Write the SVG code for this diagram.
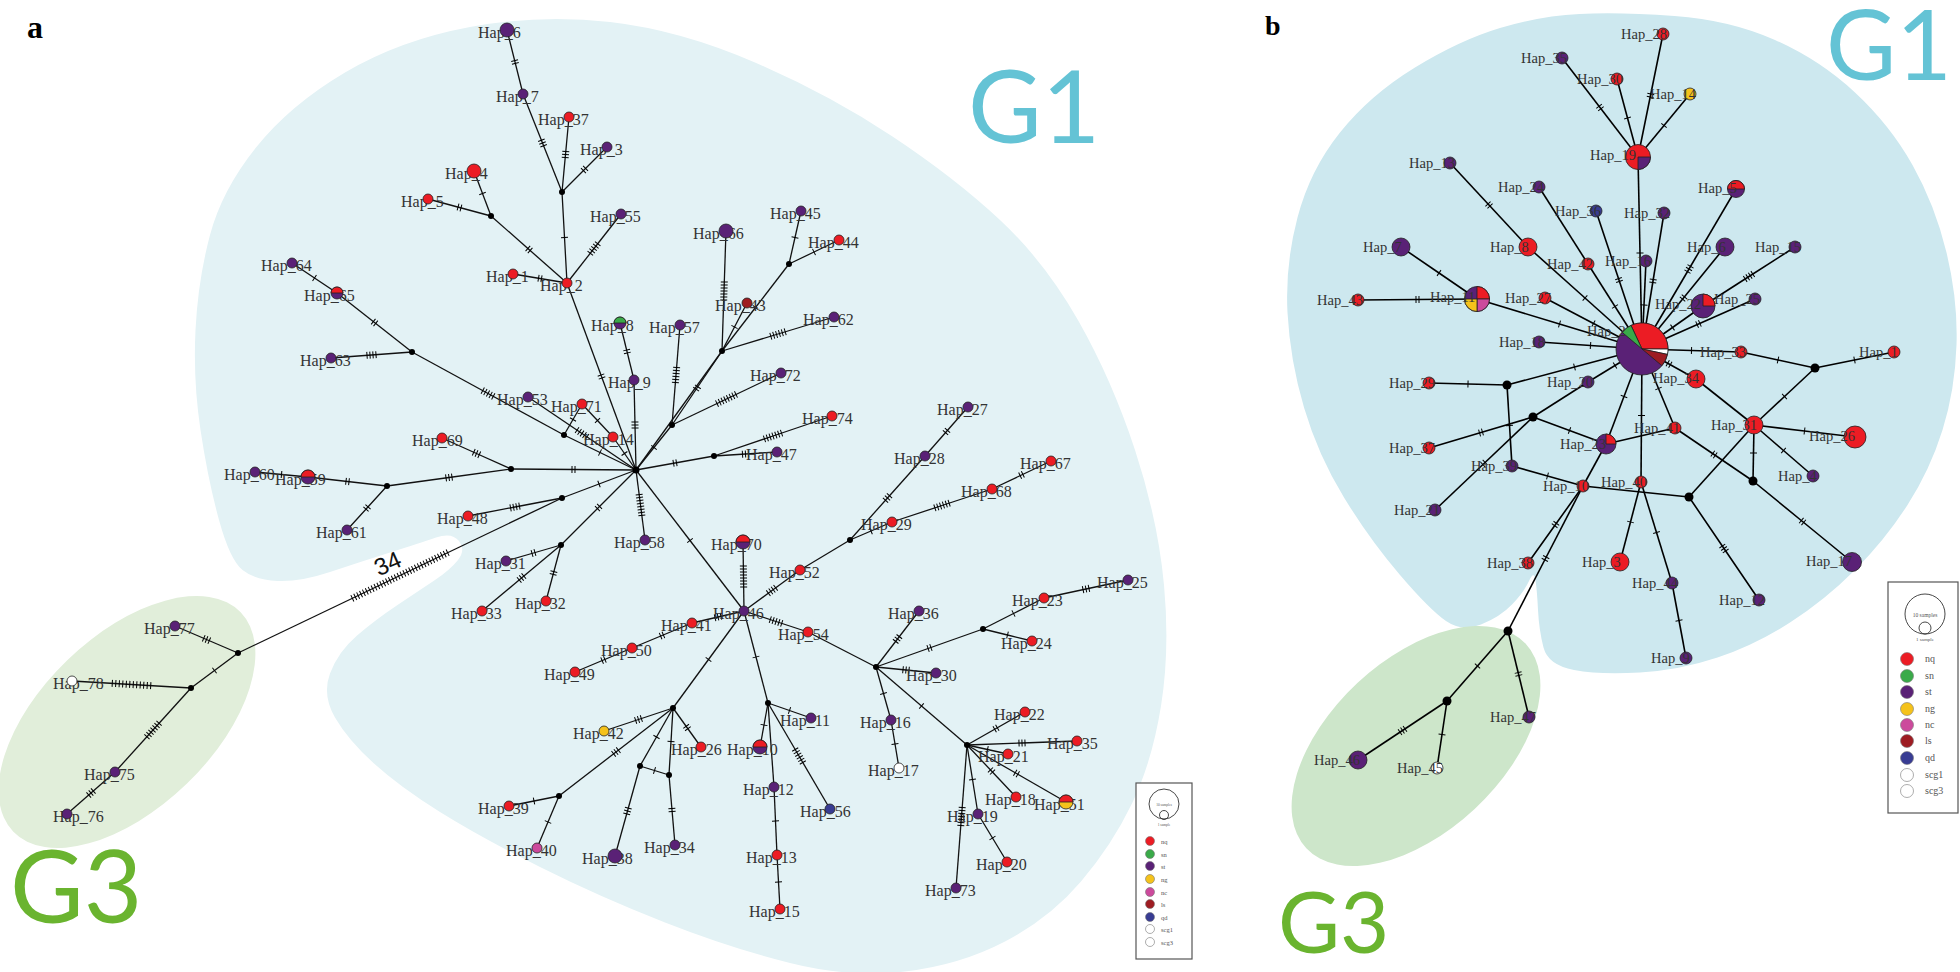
<svg xmlns="http://www.w3.org/2000/svg" width="1960" height="972" viewBox="0 0 1960 972">
<style>
.ea{fill:none;stroke:#111;stroke-width:1.3}
.eb{fill:none;stroke:#000;stroke-width:1.6}
.tk{fill:none;stroke:#000;stroke-width:1}
.n{stroke:#222;stroke-width:.8}
.nq{fill:#ec1c24}.sn{fill:#3aaa49}.st{fill:#5a2176}.ng{fill:#f5c21b}.nc{fill:#cc4a9c}.ls{fill:#9e1c22}.qd{fill:#383c93}.w{fill:#fff}
.j{fill:#000}
.la{font-family:"Liberation Serif",serif;font-size:16px;fill:#333}
.lb{font-family:"Liberation Serif",serif;font-size:14.5px;fill:#333}
.big{font-family:Lato,"Liberation Sans",sans-serif}
.lg{font-family:"Liberation Serif",serif;fill:#555}
.lc{stroke:#777;stroke-width:.6}
</style>
<defs>
<marker id="t1" markerUnits="userSpaceOnUse" orient="auto" markerWidth="120" markerHeight="20" refX="60" refY="10"><path class="tk" d="M60,6.5v7"/></marker>
<marker id="t2" markerUnits="userSpaceOnUse" orient="auto" markerWidth="120" markerHeight="20" refX="60" refY="10"><path class="tk" d="M58.5,6.5v7M61.5,6.5v7"/></marker>
<marker id="t3" markerUnits="userSpaceOnUse" orient="auto" markerWidth="120" markerHeight="20" refX="60" refY="10"><path class="tk" d="M57,6.5v7M60,6.5v7M63,6.5v7"/></marker>
<marker id="t4" markerUnits="userSpaceOnUse" orient="auto" markerWidth="120" markerHeight="20" refX="60" refY="10"><path class="tk" d="M55.5,6.5v7M58.5,6.5v7M61.5,6.5v7M64.5,6.5v7"/></marker>
<marker id="t5" markerUnits="userSpaceOnUse" orient="auto" markerWidth="120" markerHeight="20" refX="60" refY="10"><path class="tk" d="M54,6.5v7M57,6.5v7M60,6.5v7M63,6.5v7M66,6.5v7"/></marker>
<marker id="t6" markerUnits="userSpaceOnUse" orient="auto" markerWidth="120" markerHeight="20" refX="60" refY="10"><path class="tk" d="M52.5,6.5v7M55.5,6.5v7M58.5,6.5v7M61.5,6.5v7M64.5,6.5v7M67.5,6.5v7"/></marker>
<marker id="t7" markerUnits="userSpaceOnUse" orient="auto" markerWidth="120" markerHeight="20" refX="60" refY="10"><path class="tk" d="M51,6.5v7M54,6.5v7M57,6.5v7M60,6.5v7M63,6.5v7M66,6.5v7M69,6.5v7"/></marker>
<marker id="t8" markerUnits="userSpaceOnUse" orient="auto" markerWidth="120" markerHeight="20" refX="60" refY="10"><path class="tk" d="M49.5,6.5v7M52.5,6.5v7M55.5,6.5v7M58.5,6.5v7M61.5,6.5v7M64.5,6.5v7M67.5,6.5v7M70.5,6.5v7"/></marker>
<marker id="t12" markerUnits="userSpaceOnUse" orient="auto" markerWidth="120" markerHeight="20" refX="60" refY="10"><path class="tk" d="M40.75,6.5v7M44.25,6.5v7M47.75,6.5v7M51.25,6.5v7M54.75,6.5v7M58.25,6.5v7M61.75,6.5v7M65.25,6.5v7M68.75,6.5v7M72.25,6.5v7M75.75,6.5v7M79.25,6.5v7"/></marker>
<marker id="t34" markerUnits="userSpaceOnUse" orient="auto" markerWidth="120" markerHeight="20" refX="60" refY="10"><path class="tk" d="M7.2,6.5v7M10.4,6.5v7M13.6,6.5v7M16.8,6.5v7M20,6.5v7M23.2,6.5v7M26.4,6.5v7M29.6,6.5v7M32.8,6.5v7M36,6.5v7M39.2,6.5v7M42.4,6.5v7M45.6,6.5v7M48.8,6.5v7M52,6.5v7M55.2,6.5v7M58.4,6.5v7M61.6,6.5v7M64.8,6.5v7M68,6.5v7M71.2,6.5v7M74.4,6.5v7M77.6,6.5v7M80.8,6.5v7M84,6.5v7M87.2,6.5v7M90.4,6.5v7M93.6,6.5v7M96.8,6.5v7M100,6.5v7M103.2,6.5v7M106.4,6.5v7M109.6,6.5v7M112.8,6.5v7"/></marker>
</defs>
<rect width="1960" height="972" fill="#fff"/>

<g id="panel-a-regions">
<path id="a-G1-region" fill="#e3f2f5" d="M470,27 Q540,14 610,22 Q680,30 755,62.5 Q830,95 892.5,136.5 Q955,178 1000,220 Q1045,262 1078.5,321 Q1112,380 1135,450 Q1158,520 1164,585 Q1170,650 1161,706 Q1152,762 1132,803.5 Q1112,845 1081,881.5 Q1050,918 1005,941.5 Q960,965 905,971.5 Q850,978 790,963 Q730,948 665,922.5 Q600,897 540,867 Q480,837 440,812 Q400,787 374,763.5 Q348,740 335,717.5 Q322,695 330,673.5 Q338,652 356.5,636 Q375,620 397.5,605 Q420,590 435,580 Q450,570 458,560 Q466,550 459,541 Q452,532 436,537.5 Q420,543 390,552.5 Q360,562 330,572 Q300,582 277.5,581 Q255,580 242.5,570 Q230,560 219,520 Q208,480 200.5,430 Q193,380 195.5,330 Q198,280 210,235 Q222,190 256,147.5 Q290,105 345,72.5 Q400,40 470,27 Z"/>
<ellipse id="a-G3-region" fill="#e1eeda" cx="127" cy="722" rx="158" ry="86" transform="rotate(-44 127 722)"/>
<text class="big" x="968" y="143" font-size="101" fill="#64c3d5">G1</text>
<text class="big" x="10" y="923" font-size="101" fill="#6ab42f">G3</text>
<text x="27" y="38" font-family="Liberation Serif,serif" font-weight="bold" font-size="32" fill="#000">a</text>
</g>

<g id="panel-a-connectors">
<path class="ea" d="M507,30L515,62L523,94" marker-mid="url(#t2)"/>
<path class="ea" d="M523,94L542.5,143L562,192" marker-mid="url(#t3)"/>
<path class="ea" d="M569,117L565.5,154.5L562,192" marker-mid="url(#t3)"/>
<path class="ea" d="M607,147L584.5,169.5L562,192" marker-mid="url(#t2)"/>
<path class="ea" d="M562,192L564.5,237.5L567,283" marker-mid="url(#t1)"/>
<path class="ea" d="M474,171L482.5,193.5L491,216" marker-mid="url(#t1)"/>
<path class="ea" d="M428,199L459.5,207.5L491,216" marker-mid="url(#t2)"/>
<path class="ea" d="M491,216L529,249.5L567,283" marker-mid="url(#t2)"/>
<path class="ea" d="M513,274L540,278.5L567,283" marker-mid="url(#t2)"/>
<path class="ea" d="M621,214L594,248.5L567,283" marker-mid="url(#t5)"/>
<path class="ea" d="M567,283L601.5,376.5L636,470" marker-mid="url(#t2)"/>
<path class="ea" d="M620,323L627,351.5L634,380" marker-mid="url(#t2)"/>
<path class="ea" d="M634,380L635,425L636,470" marker-mid="url(#t3)"/>
<path class="ea" d="M680,325L676,375L672,425" marker-mid="url(#t6)"/>
<path class="ea" d="M726,231L724,291L722,351" marker-mid="url(#t7)"/>
<path class="ea" d="M747,303L734.5,327L722,351" marker-mid="url(#t1)"/>
<path class="ea" d="M789,264L755.5,307.5L722,351" marker-mid="url(#t1)"/>
<path class="ea" d="M801,211L795,237.5L789,264" marker-mid="url(#t1)"/>
<path class="ea" d="M839,240L814,252L789,264" marker-mid="url(#t1)"/>
<path class="ea" d="M834,317L778,334L722,351" marker-mid="url(#t6)"/>
<path class="ea" d="M722,351L697,388L672,425" marker-mid="url(#t2)"/>
<path class="ea" d="M672,425L654,447.5L636,470" marker-mid="url(#t1)"/>
<line class="ea" x1="722" y1="351" x2="636" y2="470"/>
<path class="ea" d="M781,373L726.5,399L672,425" marker-mid="url(#t8)"/>
<path class="ea" d="M832,416L773,436L714,456" marker-mid="url(#t7)"/>
<path class="ea" d="M777,452L745.5,454L714,456" marker-mid="url(#t3)"/>
<path class="ea" d="M714,456L675,463L636,470" marker-mid="url(#t2)"/>
<path class="ea" d="M528,397L582,433.5L636,470" marker-mid="url(#t5)"/>
<path class="ea" d="M582,404L573,419.5L564,435" marker-mid="url(#t1)"/>
<path class="ea" d="M582,404L597.5,420.5L613,437" marker-mid="url(#t1)"/>
<path class="ea" d="M613,437L624.5,453.5L636,470" marker-mid="url(#t1)"/>
<path class="ea" d="M564,435L600,452.5L636,470" marker-mid="url(#t1)"/>
<path class="ea" d="M412,352L488,393.5L564,435" marker-mid="url(#t5)"/>
<path class="ea" d="M331,358L371.5,355L412,352" marker-mid="url(#t4)"/>
<path class="ea" d="M292,263L314.5,278L337,293" marker-mid="url(#t1)"/>
<path class="ea" d="M337,293L374.5,322.5L412,352" marker-mid="url(#t2)"/>
<path class="ea" d="M442,438L476.5,453.5L511,469" marker-mid="url(#t3)"/>
<path class="ea" d="M511,469L573.5,469.5L636,470" marker-mid="url(#t2)"/>
<path class="ea" d="M387,486L449,477.5L511,469" marker-mid="url(#t3)"/>
<path class="ea" d="M308,477L347.5,481.5L387,486" marker-mid="url(#t2)"/>
<path class="ea" d="M255,472L281.5,474.5L308,477" marker-mid="url(#t1)"/>
<path class="ea" d="M347,530L367,508L387,486" marker-mid="url(#t2)"/>
<path class="ea" d="M468,516L515,507L562,498" marker-mid="url(#t4)"/>
<path class="ea" d="M562,498L599,484L636,470" marker-mid="url(#t1)"/>
<path class="ea" d="M238,653L400,575.5L562,498" marker-mid="url(#t34)"/>
<path class="ea" d="M561,545L598.5,507.5L636,470" marker-mid="url(#t2)"/>
<path class="ea" d="M506,561L533.5,553L561,545" marker-mid="url(#t2)"/>
<path class="ea" d="M546,601L553.5,573L561,545" marker-mid="url(#t2)"/>
<path class="ea" d="M482,611L521.5,578L561,545" marker-mid="url(#t3)"/>
<path class="ea" d="M645,540L640.5,505L636,470" marker-mid="url(#t8)"/>
<path class="ea" d="M636,470L690,540.5L744,611" marker-mid="url(#t1)"/>
<path class="ea" d="M743,542L743.5,576.5L744,611" marker-mid="url(#t8)"/>
<path class="ea" d="M744,611L772,590.5L800,570" marker-mid="url(#t4)"/>
<line class="ea" x1="800" y1="570" x2="850" y2="540"/>
<path class="ea" d="M850,540L887.5,498L925,456" marker-mid="url(#t3)"/>
<path class="ea" d="M925,456L946.5,431.5L968,407" marker-mid="url(#t2)"/>
<path class="ea" d="M850,540L871,531L892,522" marker-mid="url(#t1)"/>
<path class="ea" d="M892,522L942,505.5L992,489" marker-mid="url(#t6)"/>
<path class="ea" d="M992,489L1021.5,475L1051,461" marker-mid="url(#t2)"/>
<path class="ea" d="M744,611L776,621.5L808,632" marker-mid="url(#t5)"/>
<line class="ea" x1="808" y1="632" x2="876" y2="667"/>
<path class="ea" d="M876,667L897.5,639L919,611" marker-mid="url(#t3)"/>
<path class="ea" d="M876,667L929.5,648L983,629" marker-mid="url(#t2)"/>
<path class="ea" d="M983,629L1013.5,613.5L1044,598" marker-mid="url(#t1)"/>
<path class="ea" d="M1044,598L1086,589L1128,580" marker-mid="url(#t3)"/>
<path class="ea" d="M983,629L1007.5,635L1032,641" marker-mid="url(#t1)"/>
<path class="ea" d="M876,667L906,670L936,673" marker-mid="url(#t3)"/>
<path class="ea" d="M876,667L883.5,693.5L891,720" marker-mid="url(#t1)"/>
<path class="ea" d="M891,720L895,744L899,768" marker-mid="url(#t1)"/>
<path class="ea" d="M876,667L921.5,706L967,745" marker-mid="url(#t1)"/>
<path class="ea" d="M967,745L996,728.5L1025,712" marker-mid="url(#t2)"/>
<path class="ea" d="M967,745L1022,743L1077,741" marker-mid="url(#t3)"/>
<path class="ea" d="M967,745L987.5,749.5L1008,754" marker-mid="url(#t1)"/>
<path class="ea" d="M967,745L991.5,771L1016,797" marker-mid="url(#t2)"/>
<path class="ea" d="M967,745L1016.5,773.5L1066,802" marker-mid="url(#t2)"/>
<path class="ea" d="M967,745L972.5,779.5L978,814" marker-mid="url(#t1)"/>
<path class="ea" d="M978,814L992.5,838L1007,862" marker-mid="url(#t1)"/>
<path class="ea" d="M967,745L961.5,816.5L956,888" marker-mid="url(#t7)"/>
<path class="ea" d="M744,611L718,617L692,623" marker-mid="url(#t3)"/>
<path class="ea" d="M692,623L662,635.5L632,648" marker-mid="url(#t2)"/>
<path class="ea" d="M632,648L603.5,660L575,672" marker-mid="url(#t2)"/>
<path class="ea" d="M744,611L708.5,659.5L673,708" marker-mid="url(#t1)"/>
<path class="ea" d="M673,708L638.5,719.5L604,731" marker-mid="url(#t3)"/>
<path class="ea" d="M673,708L687,727.5L701,747" marker-mid="url(#t2)"/>
<path class="ea" d="M673,708L616,752L559,796" marker-mid="url(#t3)"/>
<path class="ea" d="M673,708L656.5,737L640,766" marker-mid="url(#t1)"/>
<path class="ea" d="M673,708L671,741.5L669,775" marker-mid="url(#t1)"/>
<path class="ea" d="M640,766L654.5,770.5L669,775" marker-mid="url(#t1)"/>
<path class="ea" d="M640,766L627.5,811L615,856" marker-mid="url(#t3)"/>
<path class="ea" d="M669,775L672,810L675,845" marker-mid="url(#t2)"/>
<path class="ea" d="M559,796L534,801L509,806" marker-mid="url(#t1)"/>
<path class="ea" d="M559,796L548,822L537,848" marker-mid="url(#t1)"/>
<path class="ea" d="M744,611L756,657L768,703" marker-mid="url(#t1)"/>
<path class="ea" d="M768,703L789.5,710.5L811,718" marker-mid="url(#t1)"/>
<path class="ea" d="M768,703L764,725L760,747" marker-mid="url(#t1)"/>
<line class="ea" x1="768" y1="703" x2="774" y2="787"/>
<path class="ea" d="M774,787L775.5,821L777,855" marker-mid="url(#t1)"/>
<path class="ea" d="M777,855L778.5,882L780,909" marker-mid="url(#t1)"/>
<path class="ea" d="M768,703L799,756L830,809" marker-mid="url(#t6)"/>
<path class="ea" d="M238,653L206.5,639.5L175,626" marker-mid="url(#t3)"/>
<path class="ea" d="M238,653L214.5,670.5L191,688" marker-mid="url(#t1)"/>
<path class="ea" d="M191,688L131.5,684.5L72,681" marker-mid="url(#t12)"/>
<path class="ea" d="M191,688L153,730L115,772" marker-mid="url(#t7)"/>
<path class="ea" d="M115,772L91,793L67,814" marker-mid="url(#t3)"/>
<text x="0" y="0" transform="translate(391,571) rotate(-24)" text-anchor="middle" font-family="Liberation Sans,sans-serif" font-size="24" fill="#111">34</text>
</g>

<g id="panel-a-nodes">
<g id="a-junctions">
<circle class="j" cx="491" cy="216" r="3"/><circle class="j" cx="562" cy="192" r="3"/><circle class="j" cx="789" cy="264" r="3"/>
<circle class="j" cx="412" cy="352" r="3"/><circle class="j" cx="722" cy="351" r="3"/><circle class="j" cx="672" cy="425" r="3"/>
<circle class="j" cx="564" cy="435" r="3"/><circle class="j" cx="511" cy="469" r="3"/><circle class="j" cx="636" cy="470" r="3.5"/>
<circle class="j" cx="714" cy="456" r="3"/><circle class="j" cx="850" cy="540" r="3"/><circle class="j" cx="387" cy="486" r="3"/>
<circle class="j" cx="562" cy="498" r="3"/><circle class="j" cx="561" cy="545" r="3"/><circle class="j" cx="673" cy="708" r="3"/>
<circle class="j" cx="640" cy="766" r="3"/><circle class="j" cx="669" cy="775" r="3"/><circle class="j" cx="559" cy="796" r="3"/>
<circle class="j" cx="768" cy="703" r="3"/><circle class="j" cx="983" cy="629" r="3"/><circle class="j" cx="876" cy="667" r="3"/>
<circle class="j" cx="967" cy="745" r="3"/><circle class="j" cx="238" cy="653" r="3"/><circle class="j" cx="191" cy="688" r="3"/>
</g>
<g id="a-hap-1"><text class="la" x="486" y="282">Hap_1</text><circle class="n nq" cx="513" cy="274" r="5"/></g>
<g id="a-hap-2"><text class="la" x="540" y="291">Hap_2</text><circle class="n nq" cx="567" cy="283" r="5"/></g>
<g id="a-hap-3"><text class="la" x="580" y="155">Hap_3</text><circle class="n st" cx="607" cy="147" r="5"/></g>
<g id="a-hap-4"><text class="la" x="445" y="179">Hap_4</text><circle class="n nq" cx="474" cy="171" r="7"/></g>
<g id="a-hap-5"><text class="la" x="401" y="207">Hap_5</text><circle class="n nq" cx="428" cy="199" r="5"/></g>
<g id="a-hap-6"><text class="la" x="478" y="38">Hap_6</text><circle class="n st" cx="507" cy="30" r="7"/></g>
<g id="a-hap-7"><text class="la" x="496" y="102">Hap_7</text><circle class="n st" cx="523" cy="94" r="5"/></g>
<g id="a-hap-8"><text class="la" x="591" y="331">Hap_8</text><circle class="n st" cx="620" cy="323" r="6"/><path class="n sn" d="M614,323A6,6 0 0 1 626,323Z"/></g>
<g id="a-hap-9"><text class="la" x="608" y="388">Hap_9</text><circle class="n st" cx="634" cy="380" r="5"/></g>
<g id="a-hap-10"><text class="la" x="727" y="755">Hap_10</text><circle class="n st" cx="760" cy="747" r="7"/><path class="n nq" d="M753,747A7,7 0 0 1 767,747Z"/></g>
<g id="a-hap-11"><text class="la" x="780" y="726">Hap_11</text><circle class="n st" cx="811" cy="718" r="5"/></g>
<g id="a-hap-12"><text class="la" x="743" y="795">Hap_12</text><circle class="n st" cx="774" cy="787" r="5"/></g>
<g id="a-hap-13"><text class="la" x="746" y="863">Hap_13</text><circle class="n nq" cx="777" cy="855" r="5"/></g>
<g id="a-hap-14"><text class="la" x="583" y="445">Hap_14</text><circle class="n nq" cx="613" cy="437" r="5"/></g>
<g id="a-hap-15"><text class="la" x="749" y="917">Hap_15</text><circle class="n nq" cx="780" cy="909" r="5"/></g>
<g id="a-hap-16"><text class="la" x="860" y="728">Hap_16</text><circle class="n st" cx="891" cy="720" r="5"/></g>
<g id="a-hap-17"><text class="la" x="868" y="776">Hap_17</text><circle class="n w" cx="899" cy="768" r="5" stroke="#666"/></g>
<g id="a-hap-18"><text class="la" x="985" y="805">Hap_18</text><circle class="n nq" cx="1016" cy="797" r="5"/></g>
<g id="a-hap-19"><text class="la" x="947" y="822">Hap_19</text><circle class="n st" cx="978" cy="814" r="5"/></g>
<g id="a-hap-20"><text class="la" x="976" y="870">Hap_20</text><circle class="n nq" cx="1007" cy="862" r="5"/></g>
<g id="a-hap-21"><text class="la" x="978" y="762">Hap_21</text><circle class="n nq" cx="1008" cy="754" r="5"/></g>
<g id="a-hap-22"><text class="la" x="994" y="720">Hap_22</text><circle class="n nq" cx="1025" cy="712" r="5"/></g>
<g id="a-hap-23"><text class="la" x="1012" y="606">Hap_23</text><circle class="n nq" cx="1044" cy="598" r="5"/></g>
<g id="a-hap-24"><text class="la" x="1001" y="649">Hap_24</text><circle class="n nq" cx="1032" cy="641" r="5"/></g>
<g id="a-hap-25"><text class="la" x="1097" y="588">Hap_25</text><circle class="n st" cx="1128" cy="580" r="5"/></g>
<g id="a-hap-26"><text class="la" x="671" y="755">Hap_26</text><circle class="n nq" cx="701" cy="747" r="5"/></g>
<g id="a-hap-27"><text class="la" x="937" y="415">Hap_27</text><circle class="n st" cx="968" cy="407" r="5"/></g>
<g id="a-hap-28"><text class="la" x="894" y="464">Hap_28</text><circle class="n st" cx="925" cy="456" r="5"/></g>
<g id="a-hap-29"><text class="la" x="861" y="530">Hap_29</text><circle class="n nq" cx="892" cy="522" r="5"/></g>
<g id="a-hap-30"><text class="la" x="906" y="681">Hap_30</text><circle class="n st" cx="936" cy="673" r="5"/></g>
<g id="a-hap-31"><text class="la" x="475" y="569">Hap_31</text><circle class="n st" cx="506" cy="561" r="5"/></g>
<g id="a-hap-32"><text class="la" x="515" y="609">Hap_32</text><circle class="n nq" cx="546" cy="601" r="5"/></g>
<g id="a-hap-33"><text class="la" x="451" y="619">Hap_33</text><circle class="n nq" cx="482" cy="611" r="5"/></g>
<g id="a-hap-34"><text class="la" x="644" y="853">Hap_34</text><circle class="n st" cx="675" cy="845" r="5"/></g>
<g id="a-hap-35"><text class="la" x="1047" y="749">Hap_35</text><circle class="n nq" cx="1077" cy="741" r="5"/></g>
<g id="a-hap-36"><text class="la" x="888" y="619">Hap_36</text><circle class="n st" cx="919" cy="611" r="5"/></g>
<g id="a-hap-37"><text class="la" x="538" y="125">Hap_37</text><circle class="n nq" cx="569" cy="117" r="5"/></g>
<g id="a-hap-38"><text class="la" x="582" y="864">Hap_38</text><circle class="n st" cx="615" cy="856" r="7"/></g>
<g id="a-hap-39"><text class="la" x="478" y="814">Hap_39</text><circle class="n nq" cx="509" cy="806" r="5"/></g>
<g id="a-hap-40"><text class="la" x="506" y="856">Hap_40</text><circle class="n nc" cx="537" cy="848" r="5"/></g>
<g id="a-hap-41"><text class="la" x="661" y="631">Hap_41</text><circle class="n nq" cx="692" cy="623" r="5"/></g>
<g id="a-hap-42"><text class="la" x="573" y="739">Hap_42</text><circle class="n ng" cx="604" cy="731" r="5"/></g>
<g id="a-hap-43"><text class="la" x="715" y="311">Hap_43</text><circle class="n ls" cx="747" cy="303" r="5"/></g>
<g id="a-hap-44"><text class="la" x="808" y="248">Hap_44</text><circle class="n nq" cx="839" cy="240" r="5"/></g>
<g id="a-hap-45"><text class="la" x="770" y="219">Hap_45</text><circle class="n st" cx="801" cy="211" r="5"/></g>
<g id="a-hap-46"><text class="la" x="713" y="619">Hap_46</text><circle class="n st" cx="744" cy="611" r="5"/></g>
<g id="a-hap-47"><text class="la" x="746" y="460">Hap_47</text><circle class="n st" cx="777" cy="452" r="5"/></g>
<g id="a-hap-48"><text class="la" x="437" y="524">Hap_48</text><circle class="n nq" cx="468" cy="516" r="5"/></g>
<g id="a-hap-49"><text class="la" x="544" y="680">Hap_49</text><circle class="n nq" cx="575" cy="672" r="5"/></g>
<g id="a-hap-50"><text class="la" x="601" y="656">Hap_50</text><circle class="n nq" cx="632" cy="648" r="5"/></g>
<g id="a-hap-51"><text class="la" x="1034" y="810">Hap_51</text><circle class="n ng" cx="1066" cy="802" r="7"/><path class="n nq" d="M1059,802A7,7 0 0 1 1073,802Z"/></g>
<g id="a-hap-52"><text class="la" x="769" y="578">Hap_52</text><circle class="n nq" cx="800" cy="570" r="5"/></g>
<g id="a-hap-53"><text class="la" x="497" y="405">Hap_53</text><circle class="n st" cx="528" cy="397" r="5"/></g>
<g id="a-hap-54"><text class="la" x="778" y="640">Hap_54</text><circle class="n nq" cx="808" cy="632" r="5"/></g>
<g id="a-hap-55"><text class="la" x="590" y="222">Hap_55</text><circle class="n st" cx="621" cy="214" r="5"/></g>
<g id="a-hap-56"><text class="la" x="800" y="817">Hap_56</text><circle class="n qd" cx="830" cy="809" r="5"/></g>
<g id="a-hap-57"><text class="la" x="649" y="333">Hap_57</text><circle class="n st" cx="680" cy="325" r="5"/></g>
<g id="a-hap-58"><text class="la" x="614" y="548">Hap_58</text><circle class="n st" cx="645" cy="540" r="5"/></g>
<g id="a-hap-59"><text class="la" x="275" y="485">Hap_59</text><circle class="n st" cx="308" cy="477" r="7"/><path class="n nq" d="M301,477A7,7 0 0 1 315,477Z"/></g>
<g id="a-hap-60"><text class="la" x="224" y="480">Hap_60</text><circle class="n st" cx="255" cy="472" r="5"/></g>
<g id="a-hap-61"><text class="la" x="316" y="538">Hap_61</text><circle class="n st" cx="347" cy="530" r="5"/></g>
<g id="a-hap-62"><text class="la" x="803" y="325">Hap_62</text><circle class="n st" cx="834" cy="317" r="5"/></g>
<g id="a-hap-63"><text class="la" x="300" y="366">Hap_63</text><circle class="n st" cx="331" cy="358" r="5"/></g>
<g id="a-hap-64"><text class="la" x="261" y="271">Hap_64</text><circle class="n st" cx="292" cy="263" r="5"/></g>
<g id="a-hap-65"><text class="la" x="304" y="301">Hap_65</text><circle class="n st" cx="337" cy="293" r="6"/><path class="n nq" d="M331,293A6,6 0 0 1 343,293Z"/></g>
<g id="a-hap-66"><text class="la" x="693" y="239">Hap_66</text><circle class="n st" cx="726" cy="231" r="7"/></g>
<g id="a-hap-67"><text class="la" x="1020" y="469">Hap_67</text><circle class="n nq" cx="1051" cy="461" r="5"/></g>
<g id="a-hap-68"><text class="la" x="961" y="497">Hap_68</text><circle class="n nq" cx="992" cy="489" r="5"/></g>
<g id="a-hap-69"><text class="la" x="412" y="446">Hap_69</text><circle class="n nq" cx="442" cy="438" r="5"/></g>
<g id="a-hap-70"><text class="la" x="711" y="550">Hap_70</text><circle class="n st" cx="743" cy="542" r="7"/><path class="n nq" d="M736,542A7,7 0 0 1 750,542Z"/></g>
<g id="a-hap-71"><text class="la" x="551" y="412">Hap_71</text><circle class="n nq" cx="582" cy="404" r="5"/></g>
<g id="a-hap-72"><text class="la" x="750" y="381">Hap_72</text><circle class="n st" cx="781" cy="373" r="5"/></g>
<g id="a-hap-73"><text class="la" x="925" y="896">Hap_73</text><circle class="n st" cx="956" cy="888" r="5"/></g>
<g id="a-hap-74"><text class="la" x="802" y="424">Hap_74</text><circle class="n nq" cx="832" cy="416" r="5"/></g>
<g id="a-hap-75"><text class="la" x="84" y="780">Hap_75</text><circle class="n st" cx="115" cy="772" r="5"/></g>
<g id="a-hap-76"><text class="la" x="53" y="822">Hap_76</text><circle class="n st" cx="67" cy="814" r="5"/></g>
<g id="a-hap-77"><text class="la" x="144" y="634">Hap_77</text><circle class="n st" cx="175" cy="626" r="5"/></g>
<g id="a-hap-78"><text class="la" x="53" y="689">Hap_78</text><circle class="n w" cx="72" cy="681" r="5" stroke="#666"/></g>
</g>

<g id="a-legend">
<rect x="1136" y="783" width="56" height="176" fill="#fff" stroke="#555" stroke-width="1.2"/>
<circle cx="1164" cy="804" r="15" fill="none" stroke="#333" stroke-width=".9"/>
<circle cx="1164" cy="815" r="4.5" fill="none" stroke="#333" stroke-width=".9"/>
<text class="lg" x="1164" y="806" font-size="3.5" text-anchor="middle">10 samples</text>
<text class="lg" x="1164" y="826" font-size="3.5" text-anchor="middle">1 sample</text>
<circle class="lc nq" cx="1150" cy="841" r="4.5"/><text class="lg" x="1161" y="843.5" font-size="6.5">nq</text>
<circle class="lc sn" cx="1150" cy="854" r="4.5"/><text class="lg" x="1161" y="856.5" font-size="6.5">sn</text>
<circle class="lc st" cx="1150" cy="866" r="4.5"/><text class="lg" x="1161" y="868.5" font-size="6.5">st</text>
<circle class="lc ng" cx="1150" cy="879" r="4.5"/><text class="lg" x="1161" y="881.5" font-size="6.5">ng</text>
<circle class="lc nc" cx="1150" cy="892" r="4.5"/><text class="lg" x="1161" y="894.5" font-size="6.5">nc</text>
<circle class="lc ls" cx="1150" cy="904" r="4.5"/><text class="lg" x="1161" y="906.5" font-size="6.5">ls</text>
<circle class="lc qd" cx="1150" cy="917" r="4.5"/><text class="lg" x="1161" y="919.5" font-size="6.5">qd</text>
<circle class="lc w" cx="1150" cy="929" r="4.5"/><text class="lg" x="1161" y="931.5" font-size="6.5">scg1</text>
<circle class="lc w" cx="1150" cy="942" r="4.5"/><text class="lg" x="1161" y="944.5" font-size="6.5">scg3</text>
</g>

<g id="panel-b-regions">
<path id="b-G1-region" fill="#cde8ef" d="M1579.5,14 Q1619,12 1674.5,16 Q1730,20 1775,40 Q1820,60 1855,92.5 Q1890,125 1912.5,165 Q1935,205 1946.5,252.5 Q1958,300 1956.5,345 Q1955,390 1942.5,430 Q1930,470 1907.5,505 Q1885,540 1855,570 Q1825,600 1790,622.5 Q1755,645 1717.5,657.5 Q1680,670 1640,672.5 Q1600,675 1574,670 Q1548,665 1543.5,647.5 Q1539,630 1538,610 Q1537,590 1535.5,580 Q1534,570 1529,581 Q1524,592 1512,604.5 Q1500,617 1481,624.5 Q1462,632 1446,621 Q1430,610 1400,575 Q1370,540 1344,497.5 Q1318,455 1304,407.5 Q1290,360 1287.5,312.5 Q1285,265 1297.5,217.5 Q1310,170 1340,132.5 Q1370,95 1415,67.5 Q1460,40 1500,28 Q1540,16 1579.5,14 Z"/>
<ellipse id="b-G3-region" fill="#cde6ca" cx="1416" cy="746" rx="150" ry="86" transform="rotate(-43 1416 746)"/>
<text class="big" x="1826" y="80" font-size="96" fill="#64c3d5">G1</text>
<text class="big" x="1278" y="953" font-size="85" fill="#6ab42f">G3</text>
<text x="1265" y="35" font-family="Liberation Serif,serif" font-weight="bold" font-size="28" fill="#000">b</text>
</g>

<g id="panel-b-connectors">
<path class="eb" d="M1562,58L1600,107.5L1638,157" marker-mid="url(#t2)"/>
<path class="eb" d="M1617,79L1627.5,118L1638,157" marker-mid="url(#t1)"/>
<path class="eb" d="M1663,34L1650.5,95.5L1638,157" marker-mid="url(#t2)"/>
<path class="eb" d="M1690,94L1664,125.5L1638,157" marker-mid="url(#t1)"/>
<path class="eb" d="M1638,157L1640,253L1642,349" marker-mid="url(#t1)"/>
<path class="eb" d="M1450,163L1489,205L1528,247" marker-mid="url(#t2)"/>
<path class="eb" d="M1528,247L1585,298L1642,349" marker-mid="url(#t1)"/>
<line class="eb" x1="1539" y1="187" x2="1588" y2="264"/>
<path class="eb" d="M1588,264L1615,306.5L1642,349" marker-mid="url(#t1)"/>
<path class="eb" d="M1596,211L1619,280L1642,349" marker-mid="url(#t2)"/>
<path class="eb" d="M1664,213L1653,281L1642,349" marker-mid="url(#t2)"/>
<path class="eb" d="M1646,261L1644,305L1642,349" marker-mid="url(#t1)"/>
<path class="eb" d="M1736,189L1689,269L1642,349" marker-mid="url(#t3)"/>
<path class="eb" d="M1725,247L1683.5,298L1642,349" marker-mid="url(#t2)"/>
<path class="eb" d="M1795,247L1749,276.5L1703,306" marker-mid="url(#t4)"/>
<path class="eb" d="M1703,306L1672.5,327.5L1642,349" marker-mid="url(#t1)"/>
<path class="eb" d="M1755,299L1698.5,324L1642,349" marker-mid="url(#t2)"/>
<path class="eb" d="M1401,247L1439,273L1477,299" marker-mid="url(#t1)"/>
<path class="eb" d="M1358,300L1417.5,299.5L1477,299" marker-mid="url(#t2)"/>
<path class="eb" d="M1477,299L1559.5,324L1642,349" marker-mid="url(#t1)"/>
<path class="eb" d="M1545,298L1593.5,323.5L1642,349" marker-mid="url(#t1)"/>
<path class="eb" d="M1539,342L1590.5,345.5L1642,349" marker-mid="url(#t1)"/>
<path class="eb" d="M1741,352L1691.5,350.5L1642,349" marker-mid="url(#t1)"/>
<path class="eb" d="M1741,352L1778,360L1815,368" marker-mid="url(#t1)"/>
<path class="eb" d="M1894,352L1854.5,360L1815,368" marker-mid="url(#t1)"/>
<path class="eb" d="M1696,379L1669,364L1642,349" marker-mid="url(#t2)"/>
<path class="eb" d="M1507,385L1574.5,367L1642,349" marker-mid="url(#t1)"/>
<path class="eb" d="M1429,383L1468,384L1507,385" marker-mid="url(#t1)"/>
<path class="eb" d="M1588,382L1615,365.5L1642,349" marker-mid="url(#t1)"/>
<line class="eb" x1="1533" y1="417" x2="1588" y2="382"/>
<path class="eb" d="M1435,510L1484,463.5L1533,417" marker-mid="url(#t2)"/>
<path class="eb" d="M1429,448L1481,432.5L1533,417" marker-mid="url(#t2)"/>
<path class="eb" d="M1507,385L1509.5,425.5L1512,466" marker-mid="url(#t1)"/>
<path class="eb" d="M1533,417L1569.5,430.5L1606,444" marker-mid="url(#t1)"/>
<path class="eb" d="M1606,444L1624,396.5L1642,349" marker-mid="url(#t1)"/>
<line class="eb" x1="1606" y1="444" x2="1675" y2="428"/>
<path class="eb" d="M1642,349L1641.5,415.5L1641,482" marker-mid="url(#t1)"/>
<path class="eb" d="M1642,349L1658.5,388.5L1675,428" marker-mid="url(#t1)"/>
<line class="eb" x1="1696" y1="379" x2="1754" y2="425"/>
<path class="eb" d="M1815,368L1784.5,396.5L1754,425" marker-mid="url(#t1)"/>
<path class="eb" d="M1754,425L1804.5,431L1855,437" marker-mid="url(#t1)"/>
<path class="eb" d="M1754,425L1783.5,450.5L1813,476" marker-mid="url(#t1)"/>
<path class="eb" d="M1754,425L1753.5,453L1753,481" marker-mid="url(#t1)"/>
<line class="eb" x1="1754" y1="425" x2="1689" y2="497"/>
<path class="eb" d="M1675,428L1714,454.5L1753,481" marker-mid="url(#t2)"/>
<path class="eb" d="M1753,481L1802.5,521.5L1852,562" marker-mid="url(#t2)"/>
<path class="eb" d="M1512,466L1547.5,476L1583,486" marker-mid="url(#t1)"/>
<line class="eb" x1="1583" y1="486" x2="1689" y2="497"/>
<line class="eb" x1="1606" y1="444" x2="1583" y2="486"/>
<path class="eb" d="M1641,482L1630.5,522L1620,562" marker-mid="url(#t1)"/>
<path class="eb" d="M1641,482L1656.5,532.5L1672,583" marker-mid="url(#t1)"/>
<path class="eb" d="M1672,583L1679,620.5L1686,658" marker-mid="url(#t1)"/>
<path class="eb" d="M1689,497L1724,548.5L1759,600" marker-mid="url(#t3)"/>
<path class="eb" d="M1583,486L1555.5,524.5L1528,563" marker-mid="url(#t2)"/>
<path class="eb" d="M1583,486L1545.5,558.5L1508,631" marker-mid="url(#t2)"/>
<path class="eb" d="M1508,631L1477.5,666L1447,701" marker-mid="url(#t1)"/>
<path class="eb" d="M1508,631L1518.5,674L1529,717" marker-mid="url(#t2)"/>
<path class="eb" d="M1447,701L1402.5,730.5L1358,760" marker-mid="url(#t3)"/>
<path class="eb" d="M1447,701L1442,734.5L1437,768" marker-mid="url(#t1)"/>
</g>

<g id="panel-b-nodes">
<g id="b-junctions">
<circle class="j" cx="1815" cy="368" r="4.5"/><circle class="j" cx="1507" cy="385" r="4.5"/><circle class="j" cx="1533" cy="417" r="4.5"/>
<circle class="j" cx="1753" cy="481" r="4.5"/><circle class="j" cx="1689" cy="497" r="4.5"/><circle class="j" cx="1508" cy="631" r="4.5"/>
<circle class="j" cx="1447" cy="701" r="4.5"/>
</g>
<g id="b-hap-2"><circle class="n st" cx="1642" cy="349" r="26"/><path class="n nq" d="M1642,349L1631,325.4A26,26 0 0 1 1668,349Z"/><path class="n w" d="M1642,349L1668,349A26,26 0 0 1 1667.4,354.4Z"/><path class="n ls" d="M1642,349L1667.4,354.4A26,26 0 0 1 1661.9,365.7Z"/><path class="n sn" d="M1642,349L1622.1,332.3A26,26 0 0 1 1631,325.4Z"/><text class="lb" x="1587" y="336">Hap_2</text></g>
<g id="b-hap-1"><circle class="n nq" cx="1894" cy="352" r="6"/><text class="lb" x="1859" y="357">Hap_1</text></g>
<g id="b-hap-3"><circle class="n nq" cx="1620" cy="562" r="9"/><text class="lb" x="1582" y="567">Hap_3</text></g>
<g id="b-hap-4"><circle class="n st" cx="1813" cy="476" r="6"/><text class="lb" x="1778" y="481">Hap_4</text></g>
<g id="b-hap-5"><circle class="n st" cx="1736" cy="189" r="8.5"/><path class="n nq" d="M1727.5,189A8.5,8.5 0 0 1 1744.5,189Z"/><text class="lb" x="1698" y="193">Hap_5</text></g>
<g id="b-hap-6"><circle class="n st" cx="1725" cy="247" r="9"/><text class="lb" x="1687" y="252">Hap_6</text></g>
<g id="b-hap-7"><circle class="n st" cx="1401" cy="247" r="9"/><text class="lb" x="1363" y="252">Hap_7</text></g>
<g id="b-hap-8"><circle class="n nq" cx="1528" cy="247" r="9"/><text class="lb" x="1490" y="252">Hap_8</text></g>
<g id="b-hap-9"><circle class="n st" cx="1686" cy="658" r="6"/><text class="lb" x="1651" y="663">Hap_9</text></g>
<g id="b-hap-10"><circle class="n nq" cx="1583" cy="486" r="6"/><text class="lb" x="1543" y="491">Hap_10</text></g>
<g id="b-hap-11"><circle class="n st" cx="1477" cy="299" r="12.5"/><path class="n nq" d="M1477,299L1477,286.5A12.5,12.5 0 0 1 1489.5,299Z"/><path class="n nc" d="M1477,299L1489.5,299A12.5,12.5 0 0 1 1477,311.5Z"/><path class="n ng" d="M1477,299L1477,311.5A12.5,12.5 0 0 1 1464.5,299Z"/><text class="lb" x="1430" y="302">Hap_11</text></g>
<g id="b-hap-12"><circle class="n st" cx="1759" cy="600" r="6"/><text class="lb" x="1719" y="605">Hap_12</text></g>
<g id="b-hap-13"><circle class="n st" cx="1450" cy="163" r="6"/><text class="lb" x="1409" y="168">Hap_13</text></g>
<g id="b-hap-14"><circle class="n ng" cx="1690" cy="94" r="6"/><text class="lb" x="1650" y="99">Hap_14</text></g>
<g id="b-hap-15"><circle class="n st" cx="1795" cy="247" r="6"/><text class="lb" x="1755" y="252">Hap_15</text></g>
<g id="b-hap-16"><circle class="n st" cx="1646" cy="261" r="6"/><text class="lb" x="1605" y="266">Hap_16</text></g>
<g id="b-hap-17"><circle class="n st" cx="1852" cy="562" r="9.5"/><text class="lb" x="1806" y="566">Hap_17</text></g>
<g id="b-hap-18"><circle class="n st" cx="1539" cy="342" r="6"/><text class="lb" x="1499" y="347">Hap_18</text></g>
<g id="b-hap-19"><circle class="n nq" cx="1638" cy="157" r="12.5"/><path class="n st" d="M1638,157L1650.5,157A12.5,12.5 0 0 1 1638,169.5Z"/><text class="lb" x="1590" y="160">Hap_19</text></g>
<g id="b-hap-20"><circle class="n st" cx="1588" cy="382" r="6"/><text class="lb" x="1547" y="387">Hap_20</text></g>
<g id="b-hap-21"><circle class="n st" cx="1435" cy="510" r="6"/><text class="lb" x="1394" y="515">Hap_21</text></g>
<g id="b-hap-22"><circle class="n st" cx="1703" cy="306" r="12"/><path class="n nq" d="M1703,306L1703,294A12,12 0 0 1 1715,306Z"/><text class="lb" x="1655" y="309">Hap_22</text></g>
<g id="b-hap-23"><circle class="n st" cx="1606" cy="444" r="10"/><path class="n nq" d="M1606,444L1606,434A10,10 0 0 1 1616,444Z"/><text class="lb" x="1560" y="449">Hap_23</text></g>
<g id="b-hap-24"><circle class="n st" cx="1539" cy="187" r="6"/><text class="lb" x="1498" y="192">Hap_24</text></g>
<g id="b-hap-25"><circle class="n st" cx="1755" cy="299" r="6"/><text class="lb" x="1714" y="304">Hap_25</text></g>
<g id="b-hap-26"><circle class="n nq" cx="1855" cy="437" r="11"/><text class="lb" x="1809" y="441">Hap_26</text></g>
<g id="b-hap-27"><circle class="n nq" cx="1545" cy="298" r="6"/><text class="lb" x="1505" y="303">Hap_27</text></g>
<g id="b-hap-28"><circle class="n nq" cx="1663" cy="34" r="6"/><text class="lb" x="1621" y="39">Hap_28</text></g>
<g id="b-hap-29"><circle class="n nq" cx="1429" cy="383" r="6"/><text class="lb" x="1389" y="388">Hap_29</text></g>
<g id="b-hap-30"><circle class="n nq" cx="1617" cy="79" r="6"/><text class="lb" x="1577" y="84">Hap_30</text></g>
<g id="b-hap-31"><circle class="n nq" cx="1754" cy="425" r="9"/><text class="lb" x="1711" y="430">Hap_31</text></g>
<g id="b-hap-32"><circle class="n st" cx="1664" cy="213" r="6"/><text class="lb" x="1624" y="218">Hap_32</text></g>
<g id="b-hap-33"><circle class="n nq" cx="1741" cy="352" r="6"/><text class="lb" x="1700" y="357">Hap_33</text></g>
<g id="b-hap-34"><circle class="n nq" cx="1696" cy="379" r="9"/><text class="lb" x="1653" y="383">Hap_34</text></g>
<g id="b-hap-35"><circle class="n st" cx="1562" cy="58" r="6"/><text class="lb" x="1521" y="63">Hap_35</text></g>
<g id="b-hap-36"><circle class="n qd" cx="1596" cy="211" r="6"/><text class="lb" x="1555" y="216">Hap_36</text></g>
<g id="b-hap-37"><circle class="n nq" cx="1429" cy="448" r="6"/><text class="lb" x="1389" y="453">Hap_37</text></g>
<g id="b-hap-38"><circle class="n nq" cx="1528" cy="563" r="6"/><text class="lb" x="1487" y="568">Hap_38</text></g>
<g id="b-hap-39"><circle class="n st" cx="1512" cy="466" r="6"/><text class="lb" x="1471" y="471">Hap_39</text></g>
<g id="b-hap-40"><circle class="n nq" cx="1641" cy="482" r="6"/><text class="lb" x="1601" y="487">Hap_40</text></g>
<g id="b-hap-41"><circle class="n nq" cx="1675" cy="428" r="6"/><text class="lb" x="1634" y="433">Hap_41</text></g>
<g id="b-hap-42"><circle class="n nq" cx="1588" cy="264" r="6"/><text class="lb" x="1547" y="269">Hap_42</text></g>
<g id="b-hap-43"><circle class="n nq" cx="1358" cy="300" r="6"/><text class="lb" x="1317" y="305">Hap_43</text></g>
<g id="b-hap-44"><circle class="n st" cx="1672" cy="583" r="6"/><text class="lb" x="1632" y="588">Hap_44</text></g>
<g id="b-hap-45"><circle class="n w" cx="1437" cy="768" r="6"/><text class="lb" x="1397" y="773">Hap_45</text></g>
<g id="b-hap-46"><circle class="n st" cx="1358" cy="760" r="9"/><text class="lb" x="1314" y="765">Hap_46</text></g>
<g id="b-hap-47"><circle class="n st" cx="1529" cy="717" r="6"/><text class="lb" x="1490" y="722">Hap_47</text></g>
</g>

<g id="b-legend">
<rect x="1888" y="582" width="70" height="231" fill="#fff" stroke="#555" stroke-width="1.2"/>
<circle cx="1925" cy="614" r="20" fill="none" stroke="#333" stroke-width=".9"/>
<circle cx="1925" cy="628" r="6" fill="none" stroke="#333" stroke-width=".9"/>
<text class="lg" x="1925" y="617" font-size="5.5" text-anchor="middle">10 samples</text>
<text class="lg" x="1925" y="641" font-size="5" text-anchor="middle">1 sample</text>
<circle class="lc nq" cx="1907" cy="659" r="6.5"/><text class="lg" x="1925" y="662" font-size="10">nq</text>
<circle class="lc sn" cx="1907" cy="676" r="6.5"/><text class="lg" x="1925" y="679" font-size="10">sn</text>
<circle class="lc st" cx="1907" cy="692" r="6.5"/><text class="lg" x="1925" y="695" font-size="10">st</text>
<circle class="lc ng" cx="1907" cy="709" r="6.5"/><text class="lg" x="1925" y="712" font-size="10">ng</text>
<circle class="lc nc" cx="1907" cy="725" r="6.5"/><text class="lg" x="1925" y="728" font-size="10">nc</text>
<circle class="lc ls" cx="1907" cy="741" r="6.5"/><text class="lg" x="1925" y="744" font-size="10">ls</text>
<circle class="lc qd" cx="1907" cy="758" r="6.5"/><text class="lg" x="1925" y="761" font-size="10">qd</text>
<circle class="lc w" cx="1907" cy="775" r="6.5"/><text class="lg" x="1925" y="778" font-size="10">scg1</text>
<circle class="lc w" cx="1907" cy="791" r="6.5"/><text class="lg" x="1925" y="794" font-size="10">scg3</text>
</g>
</svg>
